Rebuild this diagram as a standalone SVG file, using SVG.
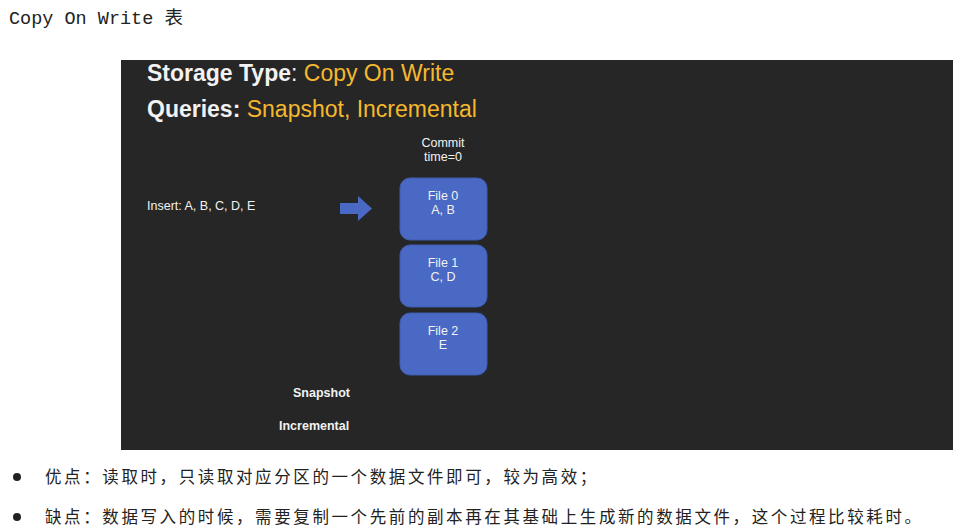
<svg xmlns="http://www.w3.org/2000/svg" width="971" height="530" viewBox="0 0 971 530">
<style>
.box{fill:#4a69c4;stroke:#3f5cae;stroke-width:1}
.bt{font-family:"Liberation Sans",Arial,sans-serif;font-size:12.5px;fill:#f2f2f2;text-anchor:middle}
.wt{font-family:"Liberation Sans",Arial,sans-serif;fill:#f2f2f2}
.cn{font-family:"Liberation Serif","Noto Sans CJK SC",serif;font-size:16.5px;letter-spacing:2.6px;fill:#222}
</style>
<rect width="971" height="530" fill="#ffffff"/>
<text x="9" y="24" font-family="Liberation Mono,'Noto Sans CJK SC',monospace" font-size="18.5" fill="#222">Copy On Write 表</text>
<rect x="121" y="60" width="832" height="390" fill="#262626"/>
<g id="header">
<text x="147" y="81" class="wt" font-size="23" font-weight="bold">Storage Type<tspan font-weight="normal">: </tspan><tspan font-weight="normal" fill="#f5b82e">Copy On Write</tspan></text>
<text x="147" y="117" class="wt" font-size="23" font-weight="bold">Queries: <tspan font-weight="normal" fill="#f5b82e">Snapshot, Incremental</tspan></text>
</g>
<g id="commit">
<text x="443" y="147" class="bt">Commit</text>
<text x="443" y="161" class="bt">time=0</text>
</g>
<g id="insert">
<text x="147" y="210" class="wt" font-size="12.5">Insert: A, B, C, D, E</text>
</g>
<g id="connectors">
<polygon points="340,203 358,203 358,196 372,208.5 358,221 358,214 340,214" fill="#4a69c4"/>
</g>
<g id="file0">
<rect class="box" x="400" y="178" width="87" height="62" rx="10"/>
<text x="443" y="200" class="bt">File 0</text>
<text x="443" y="214" class="bt">A, B</text>
</g>
<g id="file1">
<rect class="box" x="400" y="245" width="87" height="62" rx="10"/>
<text x="443" y="267" class="bt">File 1</text>
<text x="443" y="281" class="bt">C, D</text>
</g>
<g id="file2">
<rect class="box" x="400" y="313" width="87" height="62" rx="10"/>
<text x="443" y="335" class="bt">File 2</text>
<text x="443" y="349" class="bt">E</text>
</g>
<g id="labels">
<text x="293" y="397" class="wt" font-size="12.5" font-weight="bold">Snapshot</text>
<text x="279" y="430" class="wt" font-size="12.5" font-weight="bold">Incremental</text>
</g>
<g id="notes">
<circle cx="17" cy="477" r="4" fill="#222"/>
<text x="45" y="483" class="cn">优点：读取时，只读取对应分区的一个数据文件即可，较为高效；</text>
<circle cx="17" cy="517" r="4" fill="#222"/>
<text x="45" y="523" class="cn">缺点：数据写入的时候，需要复制一个先前的副本再在其基础上生成新的数据文件，这个过程比较耗时。</text>
</g>
</svg>
